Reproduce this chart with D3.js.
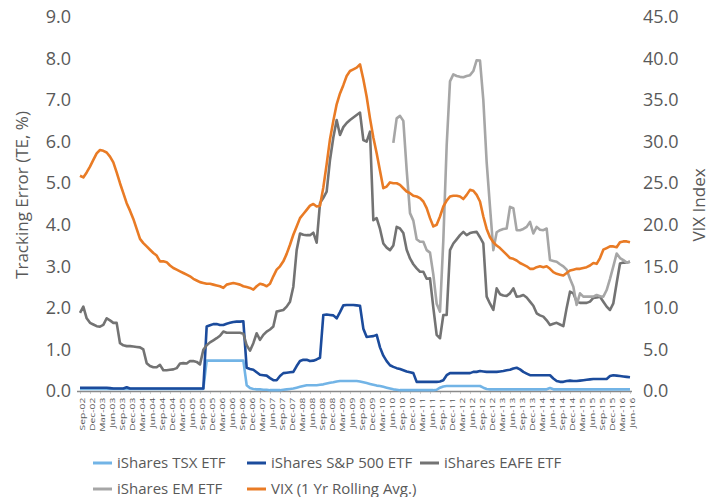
<!DOCTYPE html>
<html><head><meta charset="utf-8">
<script src="https://cdn.jsdelivr.net/npm/d3@7"></script>
<style>body{margin:0;background:#fff} text{font-family:"Open Sans",sans-serif}</style>
</head><body><svg id="c" width="715" height="497"></svg>
<script>
const tickLabels = ["Sep-02","Dec-02","Mar-03","Jun-03","Sep-03","Dec-03","Mar-04","Jun-04","Sep-04","Dec-04","Mar-05","Jun-05","Sep-05","Dec-05","Mar-06","Jun-06","Sep-06","Dec-06","Mar-07","Jun-07","Sep-07","Dec-07","Mar-08","Jun-08","Sep-08","Dec-08","Mar-09","Jun-09","Sep-09","Dec-09","Mar-10","Jun-10","Sep-10","Dec-10","Mar-11","Jun-11","Sep-11","Dec-11","Mar-12","Jun-12","Sep-12","Dec-12","Mar-13","Jun-13","Sep-13","Dec-13","Mar-14","Jun-14","Sep-14","Dec-14","Mar-15","Jun-15","Sep-15","Dec-15","Mar-16","Jun-16"];
const leftTicks = [0,1,2,3,4,5,6,7,8,9];
const rightTicks = [0,5,10,15,20,25,30,35,40,45];

// monthly values, Sep-02 .. Jun-16
const tsx = [
0.05,0.05,0.05,0.05,0.05,0.05,0.05,0.05,0.05,0.05,
0.05,0.05,0.05,0.05,0.05,0.05,0.05,0.05,0.05,0.05,
0.05,0.05,0.05,0.05,0.05,0.05,0.05,0.05,0.05,0.05,
0.05,0.05,0.05,0.05,0.05,0.05,0.05,0.05,0.73,0.73,
0.73,0.73,0.73,0.73,0.73,0.73,0.73,0.73,0.73,0.73,
0.14,0.07,0.05,0.04,0.04,0.03,0.03,0.02,0.02,0.02,
0.02,0.03,0.04,0.05,0.06,0.08,0.10,0.12,0.14,0.14,
0.14,0.14,0.15,0.16,0.18,0.20,0.21,0.23,0.24,0.24,
0.24,0.24,0.24,0.24,0.23,0.21,0.19,0.17,0.15,0.13,
0.12,0.10,0.08,0.06,0.04,0.03,0.02,0.02,0.02,0.02,
0.02,0.02,0.02,0.02,0.02,0.02,0.02,0.03,0.08,0.11,
0.12,0.12,0.12,0.12,0.12,0.12,0.12,0.12,0.12,0.12,
0.12,0.08,0.05,0.04,0.04,0.04,0.04,0.04,0.04,0.04,
0.04,0.04,0.04,0.04,0.04,0.04,0.04,0.04,0.04,0.04,
0.04,0.07,0.04,0.04,0.04,0.04,0.04,0.04,0.04,0.04,
0.04,0.04,0.04,0.04,0.04,0.04,0.04,0.04,0.04,0.04,
0.04,0.04,0.04,0.04,0.04,0.04];

const sp500 = [
0.08,0.08,0.08,0.08,0.08,0.08,0.08,0.08,0.08,0.07,
0.06,0.06,0.06,0.06,0.09,0.06,0.06,0.06,0.06,0.06,
0.06,0.06,0.06,0.06,0.06,0.06,0.06,0.06,0.06,0.06,
0.06,0.06,0.06,0.06,0.06,0.06,0.06,0.06,1.55,1.58,
1.61,1.61,1.59,1.59,1.62,1.64,1.66,1.67,1.67,1.68,
0.56,0.53,0.51,0.45,0.39,0.38,0.37,0.31,0.26,0.26,
0.36,0.43,0.44,0.45,0.46,0.60,0.72,0.75,0.75,0.72,
0.73,0.76,0.80,1.83,1.84,1.83,1.82,1.75,1.90,2.06,
2.07,2.07,2.07,2.06,2.05,1.50,1.30,1.31,1.32,1.35,
1.05,0.85,0.72,0.62,0.58,0.55,0.53,0.50,0.47,0.45,
0.43,0.22,0.22,0.22,0.22,0.22,0.22,0.22,0.23,0.26,
0.38,0.43,0.43,0.43,0.43,0.43,0.43,0.43,0.46,0.46,
0.48,0.47,0.46,0.46,0.46,0.46,0.47,0.48,0.50,0.51,
0.54,0.56,0.52,0.46,0.42,0.38,0.38,0.38,0.38,0.38,
0.38,0.38,0.30,0.24,0.22,0.22,0.24,0.25,0.24,0.24,
0.25,0.26,0.27,0.28,0.29,0.29,0.29,0.29,0.29,0.36,
0.38,0.37,0.36,0.35,0.34,0.33];

const eafe = [
1.88,2.03,1.75,1.64,1.60,1.56,1.55,1.59,1.75,1.70,
1.64,1.64,1.15,1.10,1.08,1.08,1.07,1.06,1.05,1.00,
0.67,0.60,0.57,0.57,0.63,0.50,0.50,0.51,0.52,0.55,
0.66,0.67,0.66,0.72,0.72,0.70,0.64,0.99,1.10,1.17,
1.22,1.27,1.33,1.43,1.40,1.40,1.40,1.40,1.40,1.38,
1.10,0.97,1.15,1.39,1.23,1.35,1.43,1.48,1.55,1.91,
1.93,1.95,2.03,2.15,2.51,3.39,3.79,3.76,3.75,3.75,
3.81,3.57,4.52,4.65,4.80,5.56,6.10,6.52,6.16,6.35,
6.45,6.52,6.58,6.64,6.70,6.04,6.00,6.24,4.11,4.16,
3.90,3.55,3.45,3.39,3.50,3.95,3.91,3.80,3.40,3.19,
3.05,2.95,2.87,2.87,2.70,2.71,2.00,1.35,1.27,1.83,
1.83,3.39,3.55,3.65,3.75,3.83,3.75,3.80,3.82,3.83,
3.70,3.55,2.27,2.10,1.95,2.47,2.33,2.30,2.29,2.35,
2.47,2.27,2.28,2.31,2.25,2.15,2.05,1.87,1.82,1.79,
1.70,1.59,1.62,1.64,1.60,1.56,2.00,2.39,2.35,2.15,
2.12,2.12,2.12,2.15,2.24,2.25,2.27,2.15,2.03,1.95,
2.11,2.60,3.07,3.09,3.09,3.11];

// EM series begins Jul-10 (month index 94)
const emStart = 94;
const emValues = [
5.97,6.56,6.62,6.50,5.32,4.28,
4.10,3.65,3.59,3.59,3.39,3.33,2.80,2.10,1.91,3.63,
5.90,7.45,7.62,7.58,7.56,7.55,7.58,7.60,7.70,7.96,
7.95,7.00,5.50,4.43,3.39,3.82,3.87,3.90,3.91,4.43,
4.40,3.87,3.87,3.90,3.95,4.07,3.79,3.95,3.88,3.87,
3.91,3.15,3.13,3.11,3.05,3.00,2.92,2.70,2.51,2.07,
2.35,2.27,2.27,2.27,2.27,2.31,2.28,2.27,2.43,2.70,
3.00,3.31,3.20,3.15,3.09,3.11];

const vix = [
25.9,25.7,26.3,27.0,27.8,28.6,29.0,28.9,28.7,28.2,
27.5,26.3,25.0,23.8,22.6,21.7,20.7,19.5,18.3,17.8,
17.4,17.0,16.6,16.3,15.6,15.6,15.5,15.1,14.8,14.6,
14.4,14.2,14.0,13.8,13.5,13.3,13.1,13.0,12.9,12.9,
12.8,12.7,12.6,12.4,12.8,12.9,13.0,12.9,12.8,12.6,
12.5,12.4,12.2,12.6,12.9,12.8,12.6,12.9,13.8,14.6,
15.0,15.6,16.5,17.6,18.8,19.8,20.8,21.3,21.8,22.3,
22.5,22.2,22.3,24.5,27.3,30.3,32.5,34.5,35.8,36.8,
37.9,38.5,38.7,38.9,39.3,37.5,35.4,32.8,30.5,28.6,
26.5,24.4,24.6,25.1,25.0,25.0,24.8,24.4,24.0,23.8,
23.5,23.4,23.2,22.8,22.0,20.8,19.8,20.0,21.0,22.2,
22.9,23.4,23.5,23.5,23.4,23.1,23.6,24.2,24.1,23.6,
22.8,21.0,19.5,18.5,17.9,17.5,17.2,16.8,16.4,16.0,
15.9,15.7,15.4,15.2,15.0,14.7,14.7,14.9,15.0,14.9,
15.0,14.7,14.3,14.1,14.0,13.9,14.2,14.5,14.6,14.7,
14.7,14.8,14.9,15.1,15.4,15.3,16.0,17.0,17.2,17.4,
17.4,17.3,17.9,18.0,18.0,17.9];

const seriesNames = ["iShares TSX ETF","iShares S&P 500 ETF","iShares EAFE ETF","iShares EM ETF","VIX (1 Yr Rolling Avg.)"];
const seriesColors = ["#72B4E6","#1B4B9C","#737373","#A6A6A6","#E97B25"];

const svg = d3.select("#c");
const x = d3.scaleLinear().domain([0, 165]).range([80, 630]);
const yL = d3.scaleLinear().domain([0, 9]).range([391, 17]);
const yR = d3.scaleLinear().domain([0, 45]).range([391, 17]);

// x axis
const gx = svg.append("g").attr("transform", "translate(0,391)")
  .call(d3.axisBottom(x).tickValues(d3.range(0, 166, 3)).tickFormat((d, i) => tickLabels[i]).tickSize(3).tickSizeOuter(0));
gx.select(".domain").remove();
gx.selectAll(".tick line").attr("stroke", "#d0d0d0").attr("y1", 1);
gx.selectAll(".tick text")
  .attr("transform", "translate(1.5,0) rotate(-90) scale(1.35,1)")
  .attr("text-anchor", "end")
  .attr("x", -5).attr("y", 0).attr("dy", "0.35em")
  .attr("font-size", 7.6).attr("fill", "#595959");
svg.append("line").attr("x1", 77).attr("x2", 632).attr("y1", 391.5).attr("y2", 391.5)
  .attr("stroke", "#8a8a8a").attr("stroke-width", 1.5);

// left axis
const gl = svg.append("g").attr("transform", "translate(71,0)")
  .call(d3.axisLeft(yL).tickValues(leftTicks).tickFormat(d3.format(".1f")).tickSize(0).tickPadding(0));
gl.select(".domain").remove();
gl.selectAll("text").attr("font-size", 18).attr("fill", "#595959");

// right axis
const gr = svg.append("g").attr("transform", "translate(643,0)")
  .call(d3.axisRight(yR).tickValues(rightTicks).tickFormat(d3.format(".1f")).tickSize(0).tickPadding(0));
gr.select(".domain").remove();
gr.selectAll("text").attr("font-size", 18).attr("fill", "#595959");

// axis titles
svg.append("text").attr("transform", "translate(28,195) rotate(-90)")
  .attr("text-anchor", "middle").attr("font-size", 17).attr("fill", "#595959")
  .text("Tracking Error (TE, %)");
svg.append("text").attr("transform", "translate(705,205) rotate(-90)")
  .attr("text-anchor", "middle").attr("font-size", 17).attr("fill", "#595959")
  .text("VIX Index");

// series
const em = d3.range(166).map(i => (i >= emStart ? emValues[i - emStart] : null));
const leftSeries = [tsx, sp500, eafe, em];
const lineL = d3.line().defined(d => d != null).x((d, i) => x(i)).y(d => yL(d));
const lineR = d3.line().x((d, i) => x(i)).y(d => yR(d));
leftSeries.forEach((s, k) => {
  svg.append("path").datum(s).attr("d", lineL).attr("fill", "none")
    .attr("stroke", seriesColors[k]).attr("stroke-width", 2.6).attr("stroke-linejoin", "round");
});
svg.append("path").datum(vix).attr("d", lineR).attr("fill", "none")
  .attr("stroke", seriesColors[4]).attr("stroke-width", 2.6).attr("stroke-linejoin", "round");

// legend
const legendPos = [[93, 463], [247, 463], [420, 463], [93, 489], [247, 489]];
seriesNames.forEach((n, k) => {
  const [lx, ly] = legendPos[k];
  svg.append("line").attr("x1", lx).attr("x2", lx + 19).attr("y1", ly).attr("y2", ly)
    .attr("stroke", seriesColors[k]).attr("stroke-width", 3);
  svg.append("text").attr("x", lx + 24).attr("y", ly).attr("dy", "0.35em")
    .attr("font-size", 15).attr("fill", "#595959").text(n);
});
</script></body></html>
